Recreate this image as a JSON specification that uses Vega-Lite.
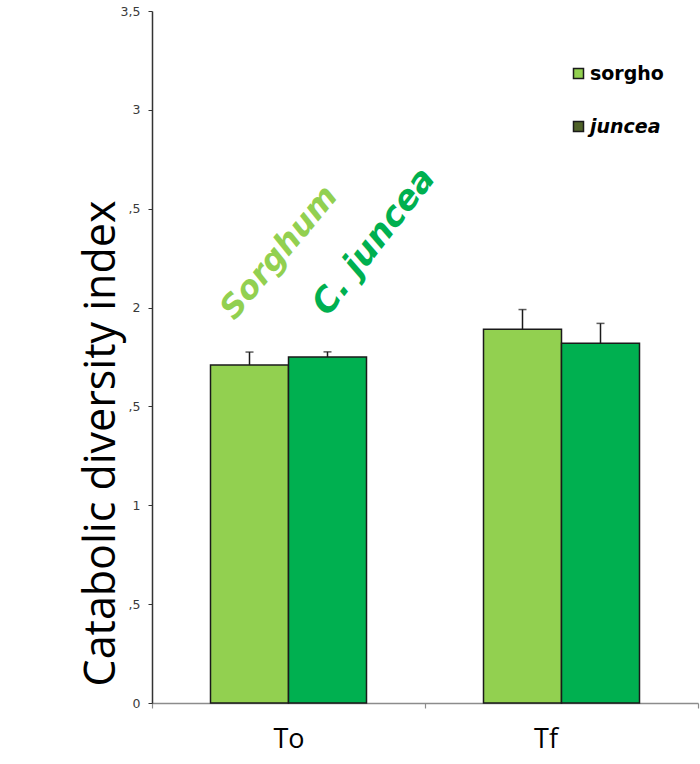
{
  "$schema": "https://vega.github.io/schema/vega-lite/v6.json",
  "width": 546,
  "height": 692,
  "autosize": {"type": "none"},
  "padding": {"left": 152, "top": 11, "right": 2, "bottom": 61},
  "background": "#ffffff",
  "config": {"view": {"stroke": null}},
  "data": {
    "values": [
      {"time": "To", "series": "sorgho", "value": 1.71, "upper": 1.775},
      {"time": "To", "series": "juncea", "value": 1.75, "upper": 1.776},
      {"time": "Tf", "series": "sorgho", "value": 1.89, "upper": 1.99},
      {"time": "Tf", "series": "juncea", "value": 1.82, "upper": 1.92}
    ]
  },
  "resolve": {"scale": {"color": "independent"}},
  "encoding": {
    "x": {
      "field": "time",
      "type": "nominal",
      "sort": ["To", "Tf"],
      "scale": {"paddingInner": 0, "paddingOuter": 0},
      "axis": {
        "title": null,
        "labelAngle": 0,
        "labelFont": "Open Sans",
        "labelFontSize": 27,
        "labelColor": "#000000",
        "labelBaseline": "alphabetic",
        "labelPadding": 39,
        "labelOffset": {"condition": {"test": "datum.value === 'Tf'", "value": -16}, "value": 0},
        "domainColor": "#8c8c8c",
        "domainWidth": 1.5,
        "tickBand": "extent",
        "tickColor": "#8c8c8c",
        "tickWidth": 1.2,
        "tickSize": 5
      }
    },
    "xOffset": {
      "field": "series",
      "type": "nominal",
      "sort": ["sorgho", "juncea"],
      "scale": {"paddingInner": 0, "paddingOuter": 0.75}
    }
  },
  "layer": [
    {
      "description": "legend key squares; they sit inside the bars, which are drawn over them",
      "mark": {"type": "point", "shape": "square", "filled": true, "opacity": 1, "size": 100, "stroke": "#1a1a1a", "strokeWidth": 1.5},
      "encoding": {
        "y": {"datum": 1, "type": "quantitative"},
        "color": {
          "field": "series",
          "type": "nominal",
          "sort": ["sorgho", "juncea"],
          "scale": {"domain": ["sorgho", "juncea"], "range": ["#92D050", "#4F6228"]},
          "legend": {
            "orient": "none",
            "legendX": 417,
            "legendY": 53,
            "title": null,
            "padding": 0,
            "symbolType": "square",
            "symbolSize": 100,
            "symbolStrokeWidth": 1.5,
            "labelFont": "DejaVu Sans",
            "labelFontWeight": "bold",
            "labelFontSize": 19,
            "labelFontStyle": {"expr": "datum.value === 'juncea' ? 'italic' : 'normal'"},
            "labelColor": "#000000",
            "labelOffset": 2,
            "rowPadding": 33
          }
        }
      }
    },
    {
      "mark": {"type": "bar", "stroke": "#1a1a1a", "strokeWidth": 1.5},
      "encoding": {
        "y": {
          "field": "value",
          "type": "quantitative",
          "scale": {"domain": [0, 3.5], "nice": false},
          "axis": {
            "values": [0, 0.5, 1, 1.5, 2, 2.5, 3, 3.5],
            "labelExpr": "datum.value === 3.5 ? '3,5' : (datum.value % 1 === 0 ? format(datum.value, 'd') : ',5')",
            "grid": false,
            "labelFont": "DejaVu Sans",
            "labelFontSize": 12.5,
            "labelColor": "#3a3a3a",
            "labelPadding": 8,
            "tickSize": 4,
            "tickColor": "#333333",
            "domainColor": "#333333",
            "domainWidth": 1.5,
            "title": "Catabolic diversity index",
            "titleFont": "Open Sans",
            "titleFontSize": 43,
            "titleFontWeight": "normal",
            "titleColor": "#000000",
            "titleAngle": -90,
            "titleAlign": "center",
            "titleBaseline": "alphabetic",
            "titleX": -38,
            "titleY": 432
          }
        },
        "color": {
          "field": "series",
          "type": "nominal",
          "sort": ["sorgho", "juncea"],
          "scale": {"domain": ["sorgho", "juncea"], "range": ["#92D050", "#00B050"]},
          "legend": null
        }
      }
    },
    {
      "mark": {"type": "rule", "color": "#1a1a1a", "strokeWidth": 1.5},
      "encoding": {
        "y": {"field": "value", "type": "quantitative"},
        "y2": {"field": "upper"}
      }
    },
    {
      "mark": {"type": "tick", "color": "#1a1a1a", "size": 8, "thickness": 1.5, "orient": "horizontal"},
      "encoding": {
        "y": {"field": "upper", "type": "quantitative"}
      }
    },
    {
      "data": {"values": [{"time": "To", "series": "sorgho", "label": "Sorghum", "pos": 2.1}]},
      "mark": {
        "type": "text",
        "font": "DejaVu Sans",
        "fontWeight": "bold",
        "fontStyle": "italic",
        "fontSize": 32,
        "angle": -50,
        "align": "center",
        "baseline": "middle",
        "dx": 46,
        "color": "#92D050"
      },
      "encoding": {
        "y": {"field": "pos", "type": "quantitative"},
        "text": {"field": "label"}
      }
    },
    {
      "data": {"values": [{"time": "To", "series": "juncea", "label": "C. juncea", "pos": 2.03}]},
      "mark": {
        "type": "text",
        "font": "DejaVu Sans",
        "fontWeight": "bold",
        "fontStyle": "italic",
        "fontSize": 34,
        "angle": -52,
        "align": "center",
        "baseline": "middle",
        "dx": 76,
        "color": "#00B050"
      },
      "encoding": {
        "y": {"field": "pos", "type": "quantitative"},
        "text": {"field": "label"}
      }
    }
  ]
}
